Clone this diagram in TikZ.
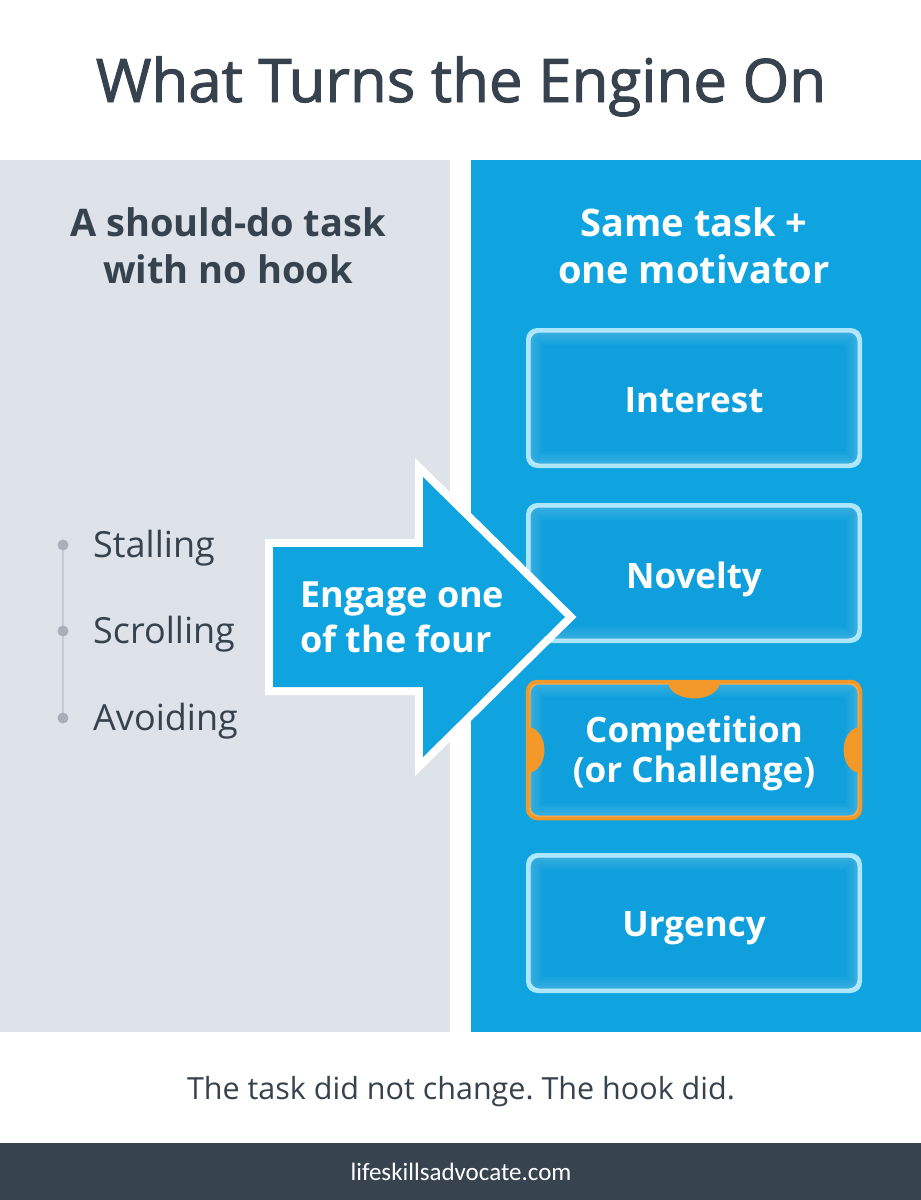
\documentclass[tikz,border=0pt]{standalone}
\usepackage{fontspec}
\setmainfont{Open Sans}
\newfontfamily\titlefont{Open Sans}[FakeBold=1.6]
\newfontfamily\footfont{Carlito}
\definecolor{panelgray}{HTML}{DEE2E9}
\definecolor{panelblue}{HTML}{0FA4E0}
\definecolor{boxfill}{HTML}{0E9FDC}
\definecolor{boxedge}{HTML}{ABE7FB}
\definecolor{hookorange}{HTML}{F2992A}
\definecolor{inkdark}{HTML}{36424D}
\definecolor{footdark}{HTML}{37434F}
\definecolor{dotgray}{HTML}{A9AFB8}
\definecolor{linegray}{HTML}{C7CCD3}
\frenchspacing
\tikzset{
  motbox/.style={draw=boxedge, line width=3pt, fill=boxfill, rounded corners=10pt,
    minimum width=330pt, minimum height=134pt, inner sep=0pt},
  motlabel/.style={text=white, font=\fontsize{35}{42}\selectfont\bfseries, align=center, anchor=base, inner sep=0pt},
  listlabel/.style={text=inkdark, font=\fontsize{36}{42}\selectfont, anchor=base west, inner sep=0pt},
  listdot/.style={circle, fill=dotgray, minimum size=11pt, inner sep=0pt},
  heading/.style={font=\fontsize{38}{47}\selectfont\bfseries, anchor=base, inner sep=0pt},
  arrowlabel/.style={text=white, font=\fontsize{36}{42}\selectfont\bfseries, anchor=base west, inner sep=0pt},
}
\begin{document}
\begin{tikzpicture}[x=1pt,y=-1pt]
\useasboundingbox (0,0) rectangle (921,1200);
\fill[white] (0,0) rectangle (921,1200);
% panels
\fill[panelgray] (0,160) rectangle (450,1032);
\fill[panelblue] (471,160) rectangle (921,1032);
\fill[footdark] (0,1143) rectangle (921,1200);
% title
\node[text=inkdark, font=\titlefont\fontsize{60}{70}\selectfont, anchor=base, inner sep=0pt] (title) at (461,102) {What Turns the Engine On};
% headings
\node[heading, text=inkdark] (lh1) at (228,236) {A should-do task};
\node[heading, text=inkdark] (lh2) at (228,283) {with no hook};
\node[heading, text=white] (rh1) at (694,236) {Same task +};
\node[heading, text=white] (rh2) at (694,283) {one motivator};
% left list
\coordinate (d1) at (63,545);
\coordinate (d2) at (63,631);
\coordinate (d3) at (63,718);
\draw[linegray, line width=2.5pt] (d1) -- (d3);
\node[listdot] (dot1) at (d1) {};
\node[listdot] (dot2) at (d2) {};
\node[listdot] (dot3) at (d3) {};
\node[listlabel] (stall) at (93,557) {Stalling};
\node[listlabel] (scroll) at (93,643) {Scrolling};
\node[listlabel] (avoid) at (93,730) {Avoiding};
% boxes
\node[motbox] (interest) at (694,398) {};
\node[motbox] (novelty) at (694,573) {};
\node[motbox, draw=hookorange] (comp) at (694,750) {};
\node[motbox] (urgency) at (694,923) {};
\foreach \b in {interest,novelty,comp,urgency}{
  \begin{scope}
    \clip[rounded corners=10pt] (\b.south west) rectangle (\b.north east);
    \foreach \w in {30,24,18,12,8}{
      \draw[white, opacity=0.045, line width=\w pt, rounded corners=10pt] (\b.south west) rectangle (\b.north east);
    }
  \end{scope}
}
\begin{scope}
  \clip[rounded corners=10pt] (comp.south west) rectangle (comp.north east);
  \fill[hookorange] (comp.north) ellipse [x radius=26pt, y radius=17pt];
  \fill[hookorange] (comp.west) ellipse [x radius=17pt, y radius=23pt];
  \fill[hookorange] (comp.east) ellipse [x radius=17pt, y radius=23pt];
\end{scope}
\foreach \b in {interest,novelty,urgency}{
  \draw[boxedge, line width=3pt, rounded corners=10pt] (\b.south west) rectangle (\b.north east);
}
\draw[hookorange, line width=3.5pt, rounded corners=10pt] (comp.south west) rectangle (comp.north east);
\node[motlabel] (tint) at (694,412) {Interest};
\node[motlabel] (tnov) at (694,588) {Novelty};
\node[motlabel] (tcomp1) at (694,742) {Competition};
\node[motlabel] (tcomp2) at (694,782) {(or Challenge)};
\node[motlabel] (turg) at (694,936) {Urgency};
% arrow
\def\arrowpath{(273,547) -- (423,547) -- (423,477) -- (565,617) -- (423,757) -- (423,687) -- (273,687) -- cycle}
\draw[white, line width=16pt, line join=miter] \arrowpath;
\fill[panelblue] \arrowpath;
\node[arrowlabel] (ar1) at (300,607) {Engage one};
\node[arrowlabel] (ar2) at (300,652) {of the four};
% caption
\node[text=inkdark, font=\fontsize{30.5}{36}\selectfont, anchor=base, inner sep=0pt] (caption) at (461,1099) {The task did not change. The hook did.};
% footer
\node[text=white, font=\footfont\fontsize{25}{30}\selectfont, anchor=base, inner sep=0pt] (foot) at (461,1180) {lifeskillsadvocate.com};
\end{tikzpicture}
\end{document}
